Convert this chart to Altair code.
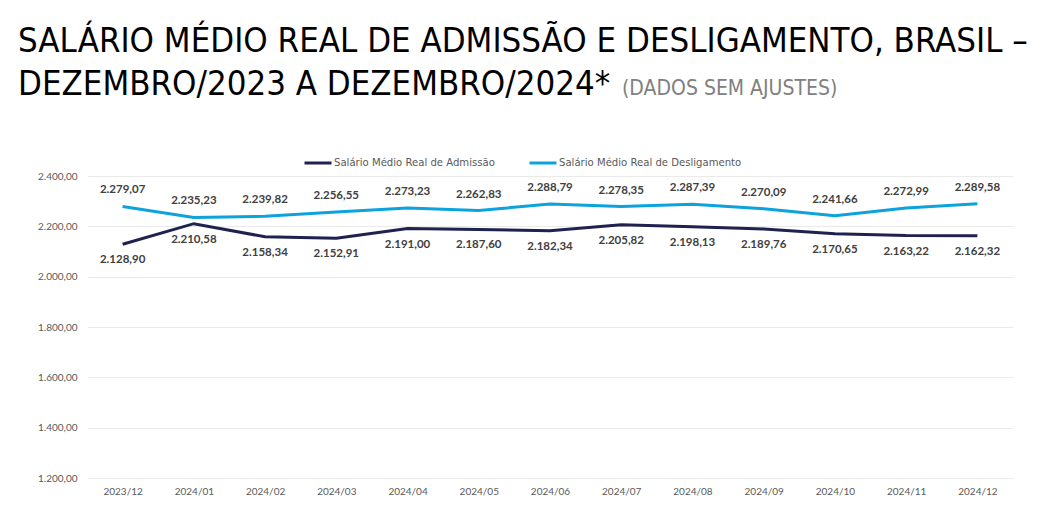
import altair as alt
import pandas as pd

meses = ["2023/12", "2024/01", "2024/02", "2024/03", "2024/04", "2024/05", "2024/06",
         "2024/07", "2024/08", "2024/09", "2024/10", "2024/11", "2024/12"]
admissao = [2128.90, 2210.58, 2158.34, 2152.91, 2191.00, 2187.60, 2182.34,
            2205.82, 2198.13, 2189.76, 2170.65, 2163.22, 2162.32]
desligamento = [2279.07, 2235.23, 2239.82, 2256.55, 2273.23, 2262.83, 2288.79,
                2278.35, 2287.39, 2270.09, 2241.66, 2272.99, 2289.58]
serie_adm = "Salário Médio Real de Admissão"
serie_des = "Salário Médio Real de Desligamento"
titulo1 = "SALÁRIO MÉDIO REAL DE ADMISSÃO E DESLIGAMENTO, BRASIL –"
titulo2 = "DEZEMBRO/2023 A DEZEMBRO/2024*"
titulo3 = "(DADOS SEM AJUSTES)"

FONTE_TITULO = "'DejaVu Sans Condensed', 'DejaVu Sans', sans-serif"


def br(v):
    s = f"{v:,.2f}"
    return s.replace(",", "#").replace(".", ",").replace("#", ".")


rows = []
for m, a, d in zip(meses, admissao, desligamento):
    rows.append({"mes": m, "serie": serie_adm, "valor": a, "rotulo": br(a)})
    rows.append({"mes": m, "serie": serie_des, "valor": d, "rotulo": br(d)})
df = pd.DataFrame(rows)

cores = alt.Scale(domain=[serie_adm, serie_des], range=["#1F2150", "#0CA3DC"])
x = alt.X("mes:N", sort=meses, title=None,
          scale=alt.Scale(paddingInner=0, paddingOuter=0.5),
          axis=alt.Axis(labelAngle=0, ticks=False, domain=False, labelPadding=8,
                        labelFontSize=10, labelColor="#595959", labelFont="Lato"))
y = alt.Y("valor:Q", title=None,
          scale=alt.Scale(domain=[1200, 2400], zero=False, nice=False),
          axis=alt.Axis(values=[1200, 1400, 1600, 1800, 2000, 2200, 2400],
                        labelExpr="replace(replace(replace(format(datum.value, ',.2f'), ',', '#'), '.', ','), '#', '.')",
                        ticks=False, domain=False, labelPadding=10,
                        labelFontSize=10, labelColor="#595959", labelFont="Lato",
                        gridColor="#EAEAEA", gridWidth=1))

base = alt.Chart(df)
linhas = base.mark_line(strokeWidth=3).encode(
    x=x, y=y,
    color=alt.Color("serie:N", scale=cores, sort=[serie_adm, serie_des],
                    legend=alt.Legend(title=None, orient="none", legendX=216, legendY=-28,
                                      direction="horizontal", symbolType="stroke",
                                      symbolSize=729, symbolStrokeWidth=3,
                                      labelFontSize=10.1, labelColor="#595959",
                                      labelFont="DejaVu Sans", columnPadding=28,
                                      labelOffset=1, labelLimit=400)),
)
rot_des = base.transform_filter(alt.datum.serie == serie_des).mark_text(
    dy=-16, fontSize=11.5, fontWeight="bold", font="Lato", color="#404040"
).encode(x=x, y=y, text="rotulo:N")
rot_adm = base.transform_filter(alt.datum.serie == serie_adm).mark_text(
    dy=16, fontSize=11.5, fontWeight="bold", font="Lato", color="#404040"
).encode(x=x, y=y, text="rotulo:N")

tdf = pd.DataFrame({"t": [0]})
t1 = alt.Chart(tdf).mark_text(text=titulo1, align="left", baseline="alphabetic",
                              font=FONTE_TITULO, fontSize=34.5, color="#000000"
                              ).encode(x=alt.value(-69), y=alt.value(-124))
t2 = alt.Chart(tdf).mark_text(text=titulo2, align="left", baseline="alphabetic",
                              font=FONTE_TITULO, fontSize=34.5, color="#000000"
                              ).encode(x=alt.value(-69), y=alt.value(-81))
t3 = alt.Chart(tdf).mark_text(text=titulo3, align="left", baseline="alphabetic",
                              font=FONTE_TITULO, fontSize=21, color="#808080"
                              ).encode(x=alt.value(535), y=alt.value(-81))

chart = alt.layer(linhas, rot_des, rot_adm, t1, t2, t3).properties(
    width=926, height=302,
    autosize=alt.AutoSizeParams(type="none"),
    padding={"left": 79, "top": 168, "right": 30, "bottom": 20},
).configure_view(stroke=None)

chart.save("out.html", embed_options={"renderer": "svg", "actions": False})
